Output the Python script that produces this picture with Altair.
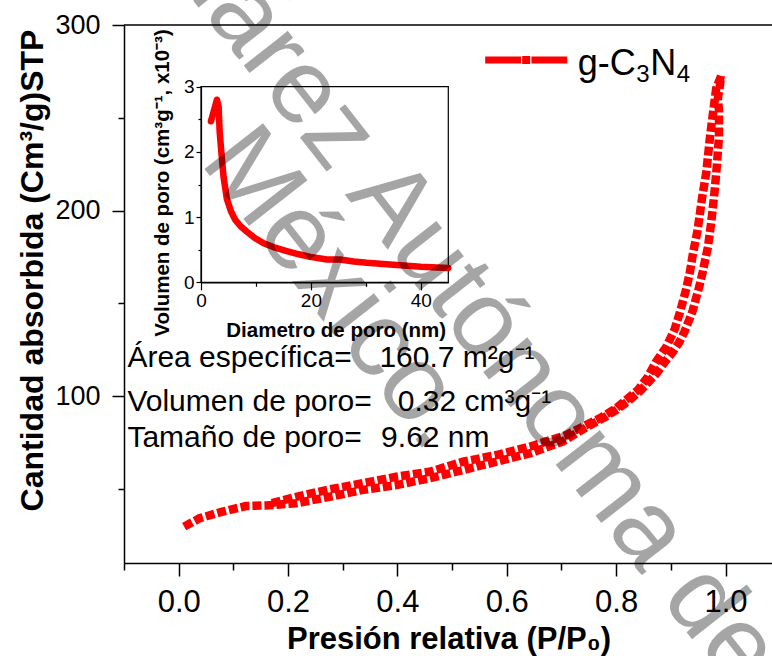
import altair as alt
import pandas as pd

# ---------------- data ----------------
# N2 isotherm, adsorption branch (P/P0, volume)
p_ads = [0.010, 0.038, 0.080, 0.123, 0.160, 0.215, 0.276, 0.337, 0.398, 0.459,
         0.520, 0.581, 0.642, 0.702, 0.733, 0.757, 0.779, 0.800, 0.821, 0.843,
         0.860, 0.874, 0.888, 0.904, 0.915, 0.925, 0.933, 0.940, 0.946, 0.952,
         0.958, 0.963, 0.968, 0.974, 0.980, 0.984, 0.988, 0.988, 0.986, 0.989, 0.992]
v_ads = [29.6, 34.1, 37.7, 40.7, 41.0, 42.2, 45.7, 49.4, 52.0, 55.7,
         60.1, 64.6, 69.1, 75.4, 81.0, 85.0, 88.5, 92.5, 97.0, 102.5,
         107.8, 112.3, 118.0, 123.9, 128.8, 134.7, 140.6, 146.0, 152.7, 158.9,
         166.5, 173.7, 180.5, 194.0, 210.1, 223.6, 239.8, 254.2, 260.5, 265.9, 272.5]
# desorption branch
p_des = [0.992, 0.983, 0.977, 0.971, 0.965, 0.957, 0.949, 0.940, 0.935, 0.928,
         0.917, 0.907, 0.892, 0.873, 0.858, 0.840, 0.818, 0.800, 0.770, 0.739,
         0.709, 0.642, 0.581, 0.520, 0.459, 0.398, 0.337, 0.276, 0.215, 0.170]
v_des = [272.5, 265.9, 252.4, 238.0, 220.9, 206.6, 189.5, 176.0, 167.0, 157.5,
         145.5, 136.0, 126.6, 118.5, 110.4, 103.3, 97.9, 93.4, 88.0, 83.5,
         79.0, 72.7, 68.2, 64.6, 59.2, 56.5, 53.0, 49.7, 45.7, 42.3]

# inset: pore size distribution
d_nm = [1.8, 2.4, 2.9, 3.2, 3.4, 3.7, 4.1, 4.7, 5.4, 6.2, 7.2, 8.3, 9.8, 11.4,
        13.5, 15.6, 17.8, 19.9, 22.9, 25.3, 27.8, 30.2, 35.0, 40.0, 45.0]
v_pore = [2.47, 2.65, 2.80, 2.70, 2.30, 2.00, 1.62, 1.28, 1.10, 0.96, 0.86, 0.78,
          0.68, 0.60, 0.53, 0.48, 0.43, 0.39, 0.35, 0.35, 0.32, 0.30, 0.27, 0.24, 0.22]

x_major = [0.0, 0.2, 0.4, 0.6, 0.8, 1.0]
x_minor = [-0.1, 0.1, 0.3, 0.5, 0.7, 0.9]
y_major = [100, 200, 300]
y_minor = [50, 150, 250]
inset_x_major = [0, 20, 40]
inset_x_minor = [10, 30]
inset_y_major = [0, 1, 2, 3]
inset_y_minor = [0.5, 1.5, 2.5]

legend_parts = ["g-C", "3", "N", "4"]
ann_labels = ["Área específica=", "Volumen de poro=", "Tamaño de poro="]
ann_values = ["160.7 m²g⁻¹", "0.32 cm³g⁻¹", "9.62 nm"]
watermark = ["Juárez Autónoma de Tabasco", "México."]

# ---------------- layout constants ----------------
FONT = "Liberation Sans"
RED = "#ff0000"
X_DOM = [-0.1, 1.085]
Y_DOM = [10, 300]

iso = pd.DataFrame({
    "P": p_ads + p_des,
    "V": v_ads + v_des,
    "branch": ["ads"] * len(p_ads) + ["des"] * len(p_des),
    "i": list(range(len(p_ads))) + list(range(len(p_des))),
})
inset_df = pd.DataFrame({"D": d_nm, "Vp": v_pore})


def xs():
    return alt.Scale(domain=X_DOM, nice=False, zero=False)


def ys():
    return alt.Scale(domain=Y_DOM, nice=False, zero=False)


iso_line = alt.Chart(iso).mark_line(
    color=RED, strokeWidth=8.5, strokeDash=[9, 3], strokeCap="butt"
).encode(
    x=alt.X("P:Q", scale=xs(), axis=None),
    y=alt.Y("V:Q", scale=ys(), axis=None),
    detail="branch:N",
    order="i:Q",
)

top_df = pd.DataFrame({"P": [X_DOM[0]], "P2": [X_DOM[1]], "V": [Y_DOM[1]]})
top_rule = alt.Chart(top_df).mark_rule(color="black", strokeWidth=1.5).encode(
    x=alt.X("P:Q", scale=xs(), axis=None), x2="P2:Q",
    y=alt.Y("V:Q", scale=ys(), axis=None),
)

# legend (drawn in data coordinates)
leg_line_df = pd.DataFrame({"P": [0.5605], "P2": [0.7105], "V": [281.1]})
leg_line = alt.Chart(leg_line_df).mark_rule(color=RED, strokeWidth=7).encode(
    x=alt.X("P:Q", scale=xs(), axis=None), x2="P2:Q",
    y=alt.Y("V:Q", scale=ys(), axis=None),
)
leg_sym_df = pd.DataFrame({"P": [0.6355], "V": [281.1]})
leg_sym = alt.Chart(leg_sym_df).mark_square(
    color=RED, size=85, opacity=1, stroke="white", strokeWidth=1.2
).encode(
    x=alt.X("P:Q", scale=xs(), axis=None),
    y=alt.Y("V:Q", scale=ys(), axis=None),
)
leg_txt_df = pd.DataFrame({
    "P": [0.7298, 0.8367, 0.8623, 0.9109],
    "V": [273.05, 269.4, 273.05, 269.4],
    "t": legend_parts,
    "fs": [36, 24, 36, 24],
})
leg_txt = alt.Chart(leg_txt_df).mark_text(
    align="left", baseline="alphabetic", font=FONT, color="black"
).encode(
    x=alt.X("P:Q", scale=xs(), axis=None),
    y=alt.Y("V:Q", scale=ys(), axis=None),
    text="t:N",
    size=alt.Size("fs:Q", scale=None, legend=None),
)

ann_df = pd.DataFrame({
    "P": [-0.0938] * 3 + [0.3671, 0.4006, 0.3702],
    "V": [115.4, 92.1, 72.4] * 2,
    "t": ann_labels + ann_values,
})
ann = alt.Chart(ann_df).mark_text(
    align="left", baseline="alphabetic", fontSize=30, font=FONT, color="black"
).encode(
    x=alt.X("P:Q", scale=xs(), axis=None),
    y=alt.Y("V:Q", scale=ys(), axis=None),
    text="t:N",
)

main = alt.layer(top_rule, iso_line, leg_line, leg_sym, leg_txt, ann)

# axes of the main plot (same scales; major and minor ticks as two axis sets)
main_major = alt.Chart(iso).mark_point(opacity=0).encode(
    x=alt.X("P:Q", scale=xs(), axis=alt.Axis(
        orient="bottom", values=x_major, format=".1f",
        tickSize=13, labelFontSize=31, labelPadding=11, labelFlush=False,
        title="Presión relativa (P/P₀)", titleFontSize=31, titleFontWeight="bold",
        titleX=324.5, titleY=85.5, titleAlign="center", titleBaseline="alphabetic",
    )),
    y=alt.Y("V:Q", scale=ys(), axis=alt.Axis(
        orient="left", values=y_major, format="d",
        tickSize=12, labelFontSize=27, labelPadding=12, labelFlush=False,
        title="Cantidad absorbida (Cm³/g)STP", titleFontSize=32, titleFontWeight="bold",
        titleAngle=270, titleX=-82, titleY=245, titleAlign="center", titleBaseline="alphabetic",
    )),
)
main_minor = alt.Chart(iso).mark_point(opacity=0).encode(
    x=alt.X("P:Q", scale=xs(), axis=alt.Axis(
        orient="bottom", values=x_minor, tickSize=7, labels=False, domain=False, title=None)),
    y=alt.Y("V:Q", scale=ys(), axis=alt.Axis(
        orient="left", values=y_minor, tickSize=6, labels=False, domain=False, title=None)),
)

# ---------------- inset ----------------
IX_RANGE = [77, 324.3]
IY_RANGE = [257.3, 61.7]


def ixs():
    return alt.Scale(domain=[0, 45], range=IX_RANGE, nice=False, zero=False)


def iys():
    return alt.Scale(domain=[0, 3], range=IY_RANGE, nice=False, zero=False)


inset_line = alt.Chart(inset_df).mark_line(
    color=RED, strokeWidth=6.5, strokeJoin="round", strokeCap="round"
).encode(
    x=alt.X("D:Q", scale=ixs(), axis=None),
    y=alt.Y("Vp:Q", scale=iys(), axis=None),
)
box_df = pd.DataFrame({"D": [0], "D2": [45], "Vp": [0], "Vp2": [3]})
inset_box = alt.Chart(box_df).mark_rect(
    fillOpacity=0, stroke="black", strokeWidth=1.2
).encode(
    x=alt.X("D:Q", scale=ixs(), axis=None), x2="D2:Q",
    y=alt.Y("Vp:Q", scale=iys(), axis=None), y2="Vp2:Q",
)
inset = alt.layer(inset_box, inset_line)

inset_major = alt.Chart(inset_df).mark_point(opacity=0).encode(
    x=alt.X("D:Q", scale=ixs(), axis=alt.Axis(
        orient="bottom", offset=-280.7, values=inset_x_major, format="d",
        tickSize=7.5, labelFontSize=19, labelPadding=2, labelFlush=False,
        domainWidth=1.2, tickWidth=1.2,
        title="Diametro de poro (nm)", titleFontSize=20.5, titleFontWeight="bold",
        titleX=211.7, titleY=54.4, titleAlign="center", titleBaseline="alphabetic",
    )),
    y=alt.Y("Vp:Q", scale=iys(), axis=alt.Axis(
        orient="left", offset=-77, values=inset_y_major, format="d",
        tickSize=5, labelFontSize=19, labelPadding=2, labelFlush=False,
        domainWidth=1.2, tickWidth=1.2,
        title="Volumen de poro (cm³g⁻¹, x10⁻³)", titleFontSize=20.5, titleFontWeight="bold",
        titleAngle=270, titleX=-32.5, titleY=157.5, titleAlign="center", titleBaseline="alphabetic",
    )),
)
inset_minor = alt.Chart(inset_df).mark_point(opacity=0).encode(
    x=alt.X("D:Q", scale=ixs(), axis=alt.Axis(
        orient="bottom", offset=-280.7, values=inset_x_minor, tickSize=4, tickWidth=1.2,
        labels=False, domain=False, title=None)),
    y=alt.Y("Vp:Q", scale=iys(), axis=alt.Axis(
        orient="left", offset=-77, values=inset_y_minor, tickSize=3, tickWidth=1.2,
        labels=False, domain=False, title=None)),
)

# ---------------- watermark ----------------
wm1 = alt.Chart(pd.DataFrame({"t": [watermark[0]]})).mark_text(
    angle=52, fontSize=106, font=FONT, color="black", opacity=0.35,
    align="left", baseline="alphabetic"
).encode(x=alt.value(10), y=alt.value(-100), text="t:N")
wm2 = alt.Chart(pd.DataFrame({"t": [watermark[1]]})).mark_text(
    angle=52, fontSize=108, font=FONT, color="black", opacity=0.35,
    align="left", baseline="alphabetic"
).encode(x=alt.value(75), y=alt.value(137), text="t:N")

chart = alt.layer(
    main, main_major, main_minor, inset, inset_major, inset_minor, wm1, wm2
).resolve_scale(
    x="independent", y="independent"
).resolve_axis(
    x="independent", y="independent"
).properties(
    width=648, height=538,
    autosize=alt.AutoSizeParams(type="none"),
    padding={"left": 124, "top": 25, "right": 0, "bottom": 93},
    background="white",
).configure(
    font=FONT,
).configure_axis(
    grid=False, domainColor="black", tickColor="black", labelColor="black",
    titleColor="black", domainWidth=1.5, tickWidth=1.5, labelFont=FONT, titleFont=FONT,
).configure_view(
    stroke="transparent"
)

chart.save("out.html", embed_options={"renderer": "svg", "actions": False})
